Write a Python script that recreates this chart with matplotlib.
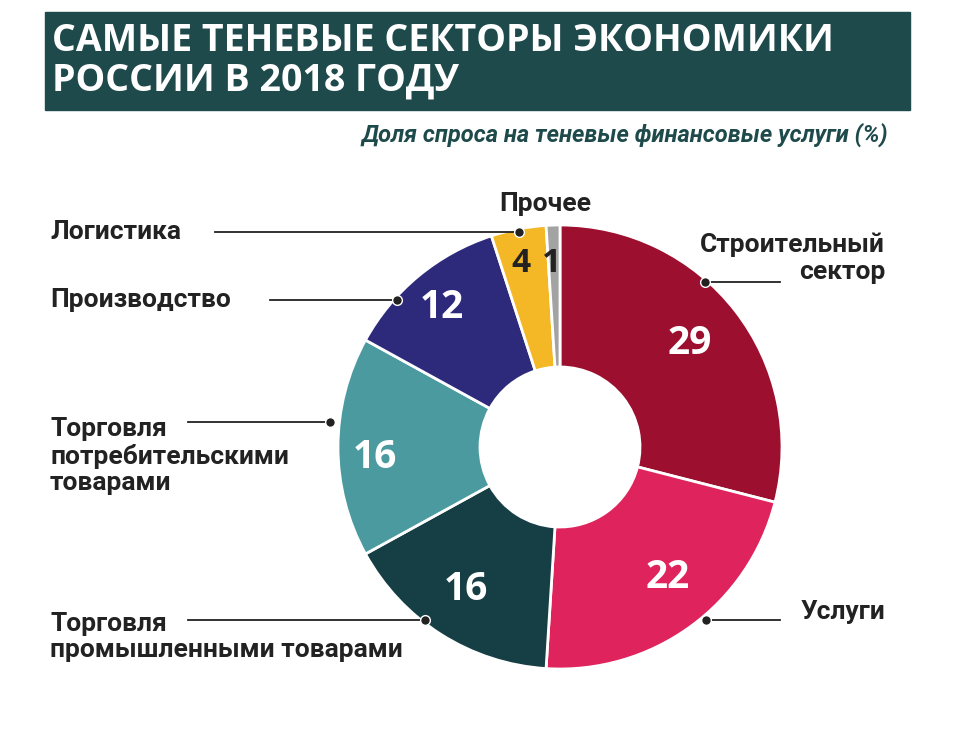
import matplotlib
matplotlib.use("Agg")
import matplotlib.pyplot as plt
from matplotlib.patches import Rectangle

categories = ["Строительный\nсектор", "Услуги", "Торговля\nпромышленными товарами",
              "Торговля\nпотребительскими\nтоварами", "Производство", "Логистика", "Прочее"]
values = [29, 22, 16, 16, 12, 4, 1]
colors = ["#9c0f2f", "#df235d", "#163f45", "#4b9a9f", "#2d2a7c", "#f4b827", "#a3a3a3"]
title = "САМЫЕ ТЕНЕВЫЕ СЕКТОРЫ ЭКОНОМИКИ\nРОССИИ В 2018 ГОДУ"
subtitle = "Доля спроса на теневые финансовые услуги (%)"

W, H = 980, 749
fig = plt.figure(figsize=(W/100, H/100), dpi=100)
ax = fig.add_axes([0, 0, 1, 1])
ax.set_xlim(0, W); ax.set_ylim(0, H); ax.axis("off")
Y = lambda py: H - py
FONT = ["Liberation Sans Narrow", "Roboto", "DejaVu Sans"]

ax.add_patch(Rectangle((45, Y(110)), 865, 98, color="#1e4a4b"))
ax.text(52, Y(61), title, color="white", fontsize=27, fontweight="bold",
        family=["Open Sans", "DejaVu Sans"], va="center", ha="left", linespacing=1.05)
ax.text(888, Y(135), subtitle, color="#1e4a4b", fontsize=17, fontweight="bold",
        fontstyle="italic", family=FONT, ha="right", va="center")

cx, cy, R = 560, Y(447), 222
ax.pie(values, colors=colors, startangle=90, counterclock=False, center=(cx, cy),
       radius=R, wedgeprops=dict(width=R-80, edgecolor="white", linewidth=2), frame=True)
ax.set_xlim(0, W); ax.set_ylim(0, H); ax.axis("off")

nums = [(690, 343, "white"), (668, 578, "white"), (466, 590, "white"), (375, 457, "white"),
        (442, 307, "white"), (521, 263, "#222222"), (552, 263, "#222222")]
for (x, y, c), v in zip(nums, values):
    ax.text(x, Y(y), str(v), color=c, fontsize=28 if v > 4 else 24, fontweight="bold",
            family=["Open Sans", "DejaVu Sans"], ha="center", va="center")

def leader(x0, x1, y):
    ax.plot([x0, x1], [Y(y), Y(y)], color="#222222", lw=1.3)
    dot = x1 if x1 > x0 else x1
    ax.plot([dot], [Y(y)], "o", color="#222222", ms=7, mec="white", mew=1)

lab = dict(fontsize=19, fontweight="bold", family=FONT, color="#222222")
ax.text(50, Y(232), categories[5], ha="left", va="center", **lab); leader(215, 519, 232)
ax.text(50, Y(300), categories[4], ha="left", va="center", **lab); leader(270, 397, 300)
ax.text(50, Y(456), categories[3], ha="left", va="center", linespacing=1.15, **lab); leader(188, 330, 422)
ax.text(50, Y(637), categories[2], ha="left", va="center", linespacing=1.15, **lab); leader(188, 425, 620)
ax.text(545, Y(204), categories[6], ha="center", va="center", **lab)
ax.text(885, Y(258), categories[0], ha="right", va="center", linespacing=1.15, **lab)
ax.plot([705, 780], [Y(282), Y(282)], color="#222222", lw=1.3)
ax.plot([705], [Y(282)], "o", color="#222222", ms=7, mec="white", mew=1)
ax.text(885, Y(612), categories[1], ha="right", va="center", **lab)
ax.plot([706, 780], [Y(620), Y(620)], color="#222222", lw=1.3)
ax.plot([706], [Y(620)], "o", color="#222222", ms=7, mec="white", mew=1)

fig.savefig("out.png", dpi=100, facecolor="white")
